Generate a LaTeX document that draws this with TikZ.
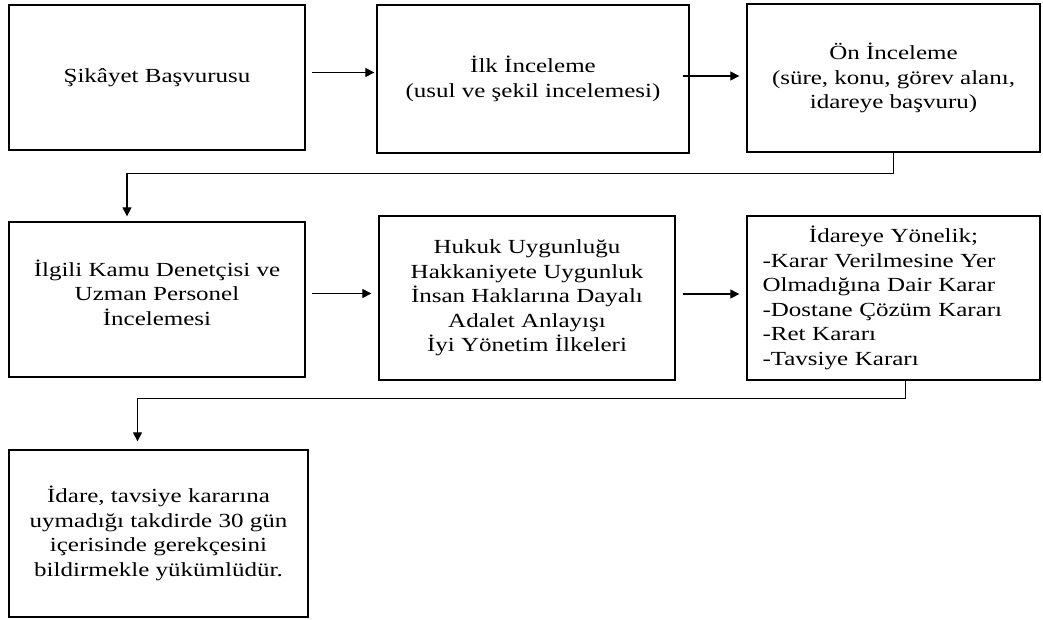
\documentclass[tikz,border=0pt]{standalone}
\usepackage{fontspec}
\setmainfont{Liberation Serif}[FakeStretch=1.25]
\usetikzlibrary{arrows.meta}

\tikzset{
  box/.style={draw, line width=1.3pt, align=center, inner sep=0pt,
    font=\fontsize{20}{24.5}\selectfont},
  akis/.style={line width=1.1pt, -{Triangle[length=9pt,width=9pt]}}
}

\begin{document}
\begin{tikzpicture}[x=1pt, y=-1pt]
    \useasboundingbox (0,0) rectangle (1043,619);
    % ilk sira
    \node[box, minimum width=296, minimum height=145] (sik) at (157,77.5) {Şikâyet Başvurusu};
    \node[box, minimum width=312, minimum height=148] (ilk) at (533,79) {İlk İnceleme\\(usul ve şekil incelemesi)};
    \node[box, minimum width=293, minimum height=148] (on) at (893.5,78) {Ön İnceleme\\(süre, konu, görev alanı,\\idareye başvuru)};
    % ikinci sira
    \node[box, minimum width=296, minimum height=155] (den) at (157,299.5) {İlgili Kamu Denetçisi ve\\Uzman Personel\\İncelemesi\\[-10pt]};
    \node[box, minimum width=296, minimum height=164] (huk) at (527,298) {Hukuk Uygunluğu\\Hakkaniyete Uygunluk\\İnsan Haklarına Dayalı\\Adalet Anlayışı\\İyi Yönetim İlkeleri};
    \node[box, minimum width=293, minimum height=164, text width=262, align=left] (kar) at (893.5,298)
      {\makebox[262pt]{İdareye Yönelik;}\\-Karar Verilmesine Yer\\Olmadığına Dair Karar\\-Dostane Çözüm Kararı\\-Ret Kararı\\-Tavsiye Kararı};
    % ucuncu sira
    \node[box, minimum width=299, minimum height=167] (ida) at (158.5,533.5) {İdare, tavsiye kararına\\uymadığı takdirde 30 gün\\içerisinde gerekçesini\\bildirmekle yükümlüdür.};

    \draw[akis, shorten <=6pt, shorten >=2pt] ([yshift=5]sik.east) -- ([yshift=5]sik.east -| ilk.west);
    \draw[akis, shorten <=-7pt, shorten >=7pt] ([yshift=3]ilk.east) -- ([yshift=3]ilk.east -| on.west);
    \draw[akis, shorten <=6pt, shorten >=7pt] ([yshift=6]den.east) -- ([yshift=6]den.east -| huk.west);
    \draw[akis, shorten <=7pt, shorten >=7pt] ([yshift=4]huk.east) -- ([yshift=4]huk.east -| kar.west);
    \draw[akis, shorten >=5pt] (on.south) -- ++(0,21) -| ([xshift=-30]den.north);
    \draw[akis, shorten >=8pt] ([xshift=12]kar.south) -- ++(0,18) -| ([xshift=-21]ida.north);
  \end{tikzpicture}
\end{document}
